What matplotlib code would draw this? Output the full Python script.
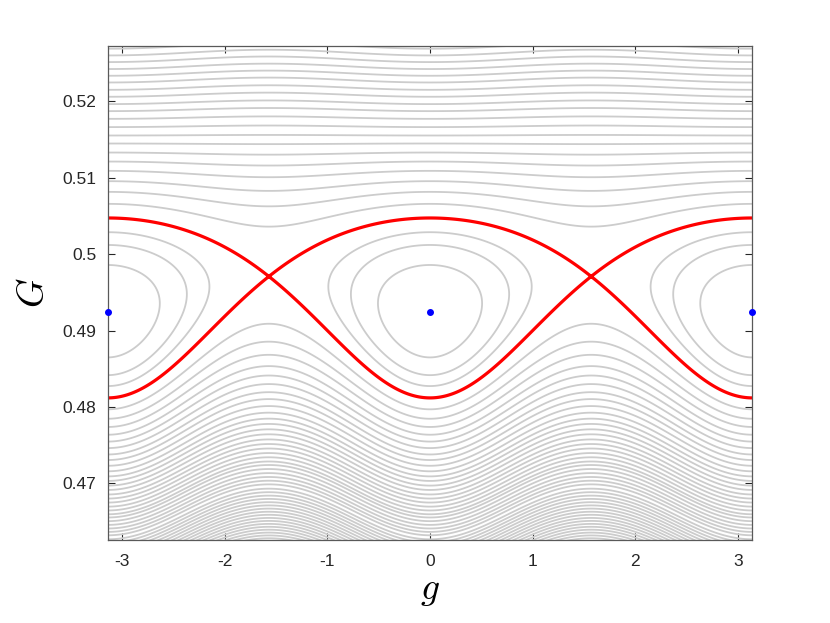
import numpy as np
import matplotlib
matplotlib.use("Agg")
import matplotlib.pyplot as plt

plt.rcParams['mathtext.fontset'] = 'cm'

# G where each grey curve crosses g = 0 above the separatrix
G_top = [0.52691, 0.52603, 0.52516, 0.52425, 0.52337, 0.52249, 0.52153, 0.52062,
         0.51966, 0.51874, 0.51773, 0.51665, 0.51555, 0.51450, 0.51332, 0.51214,
         0.51092, 0.50957, 0.50817, 0.50660]
# closed curves inside the island, upper crossing of g = 0
G_island = [0.50289, 0.50122, 0.49860]
# curves under the separatrix with no partner above the frame, crossing g = 0
G_bottom = [0.46555, 0.46507, 0.46458, 0.46411, 0.46366, 0.46322]
# lowest curves only enter the frame near g = +-pi/2, read there
G_low_half_pi = [0.46932, 0.46886, 0.46841, 0.46798, 0.46755, 0.46713, 0.46671,
                 0.46630, 0.46590, 0.46549, 0.46510, 0.46471, 0.46433, 0.46395,
                 0.46357, 0.46320, 0.46283]

# fixed points
G_centre = 0.4924    # elliptic, g = 0 and +-pi
G_saddle = 0.4971    # hyperbolic, g = +-pi/2
g_centre = [-np.pi, 0.0, np.pi]

# shape of the one-degree-of-freedom Hamiltonian
A2 = 1.017
C3 = 12.4
H_sep = -6.85e-5


def P(G):
    # H along g = 0
    v = np.asarray(G) - G_centre
    return -v**2 / 2 + C3 * v**3 / 3


def Q(G):
    # H along g = pi/2
    w = np.asarray(G) - G_saddle
    return H_sep - A2 * w**2 / 2 + C3 * w**3 / 3


def H(g, G):
    return (P(G) + Q(G)) / 2 + (P(G) - Q(G)) / 2 * np.cos(2 * g)


levels = np.sort(np.concatenate([P(G_top), P(G_island), P(G_bottom), Q(G_low_half_pi)]))

gg, GG = np.meshgrid(np.linspace(-np.pi, np.pi, 800), np.linspace(0.458, 0.532, 900))
HH = H(gg, GG)

fig = plt.figure(figsize=(8.3, 6.23), dpi=100)
ax = fig.add_axes([0.1298, 0.1332, 0.7766, 0.7934])

ax.contour(gg, GG, HH, levels=levels, colors=[(0.8, 0.8, 0.8)], linewidths=1.3,
           linestyles='solid')
ax.contour(gg, GG, HH, levels=[H_sep], colors=[(1, 0, 0)], linewidths=2.3,
           linestyles='solid')
ax.plot(g_centre, [G_centre] * 3, 'o', color=(0, 0, 1), ms=4, clip_on=False, zorder=5)

ax.set_xlim(-np.pi, np.pi)
ax.set_ylim(0.4626, 0.5273)
ax.set_xticks([-3, -2, -1, 0, 1, 2, 3])
ax.set_xticklabels(['-3', '-2', '-1', '0', '1', '2', '3'])
ax.set_yticks([0.47, 0.48, 0.49, 0.50, 0.51, 0.52])
ax.set_yticklabels(['0.47', '0.48', '0.49', '0.5', '0.51', '0.52'])
ax.tick_params(direction='in', length=5, width=0.8, color='0.15', top=True, right=True,
               labelsize=12.5, labelcolor='0.15')
ax.tick_params(axis='x', pad=10)
ax.tick_params(axis='y', pad=8)
for tl in ax.get_xticklabels() + ax.get_yticklabels():
    tl.set_family('Liberation Sans')
for s in ax.spines.values():
    s.set_color('0.35')
    s.set_linewidth(0.9)

ax.set_xlabel('$g$', fontsize=27, labelpad=2)
ax.set_ylabel('$G$', fontsize=27, labelpad=8)

fig.savefig('out.png', dpi=100)
